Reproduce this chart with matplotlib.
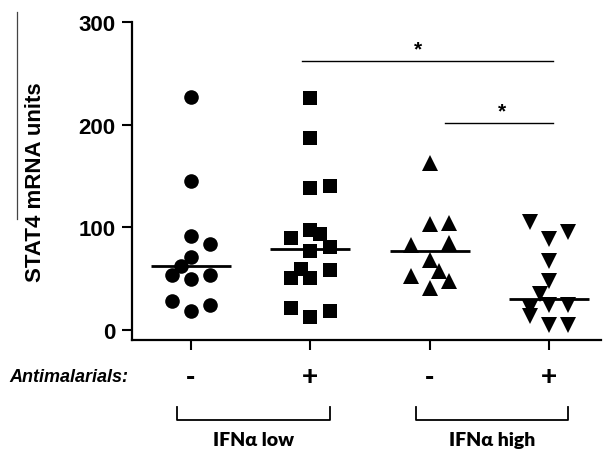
import matplotlib
matplotlib.use("Agg")
import matplotlib.pyplot as plt
import matplotlib.transforms as mtransforms
from matplotlib.lines import Line2D

# ---- data ----
group_pos = [1, 2, 3, 4]
tick_labels = ["-", "+", "-", "+"]
row_label = "Antimalarials:"
bracket_labels = ["IFN\u03b1 low", "IFN\u03b1 high"]
ylabel = "STAT4 mRNA units"

circ_vals = [227.3, 145.1, 91.0, 83.5, 70.8, 62.3, 53.6, 53.6, 49.1, 27.7, 23.8, 17.9]
circ_jit = [0, 0, 0, 0.16, 0, -0.08, -0.16, 0.16, 0, -0.16, 0.16, 0]

sq_vals = [225.7, 186.7, 138.7, 140.6, 90.0, 97.4, 93.2, 80.3, 76.9, 59.4, 50.4, 50.4, 58.4, 21.1, 12.1, 17.9]
sq_jit = [0, 0, 0, 0.16, -0.16, 0, 0.08, 0.16, 0, -0.08, -0.16, 0, 0.16, -0.16, 0, 0.16]

tri_vals = [162.4, 103.0, 104.6, 82.8, 84.4, 68.2, 57.5, 52.0, 47.1, 40.6]
tri_jit = [0, 0, 0.16, -0.16, 0.16, 0, 0.08, -0.16, 0.16, 0]

inv_vals = [105.6, 88.3, 94.9, 67.2, 47.1, 34.8, 21.1, 13.3, 24.4, 24.4, 4.3, 4.9]
inv_jit = [-0.16, 0, 0.16, 0, 0, -0.08, -0.16, -0.16, 0, 0.16, 0, 0.16]

medians = [61.8, 78.6, 77.3, 30.2]

sig_start = [1.927, 3.127]
sig_end = [4.03, 4.03]
sig_heights = [262.4, 201.3]
sig_star_x = [2.90, 3.60]
sig_text = ["*", "*"]

yticks = [0, 100, 200, 300]

# ---- figure ----
fig = plt.figure(figsize=(6.07, 4.52), dpi=100)
ax = fig.add_axes([132 / 607, 111 / 452, (601 - 132) / 607, (428.7 - 111) / 452])

groups = [(circ_vals, circ_jit, "o", 10.5),
          (sq_vals, sq_jit, "s", 10.2),
          (tri_vals, tri_jit, "^", 11.5),
          (inv_vals, inv_jit, "v", 11.5)]
for gp, (vals, jit, mk, ms) in zip(group_pos, groups):
    xs = [gp + j for j in jit]
    ax.plot(xs, vals, linestyle="none", marker=mk, markersize=ms,
            color="black", markeredgewidth=0)

for gp, m in zip(group_pos, medians):
    ax.plot([gp - 0.335, gp + 0.335], [m, m], color="black", lw=2.0,
            solid_capstyle="butt")

for x0, x1, h, sx, t in zip(sig_start, sig_end, sig_heights, sig_star_x, sig_text):
    ax.plot([x0, x1], [h, h], color="black", lw=1.0)
    ax.text(sx, h + 12, t, ha="center", va="center", fontsize=15,
            fontweight="bold", family="Liberation Sans")

ax.set_xlim(0.506, 4.433)
ax.set_ylim(-10, 300)
ax.set_yticks(yticks)
ax.set_yticklabels([str(v) for v in yticks], fontsize=16, fontweight="bold",
                   family="Liberation Sans")
ax.set_xticks(group_pos)
ax.set_xticklabels([])
ax.tick_params(axis="y", length=7, width=1.5, pad=5, direction="out")
ax.tick_params(axis="x", length=7, width=1.5, direction="out")
for s in ["top", "right"]:
    ax.spines[s].set_visible(False)
for s in ["left", "bottom"]:
    ax.spines[s].set_linewidth(1.6)
ax.set_ylabel(ylabel, fontsize=16, fontweight="bold", family="Liberation Sans",
              labelpad=23)

trans = mtransforms.blended_transform_factory(ax.transData, fig.transFigure)
for gp, lab in zip(group_pos, tick_labels):
    ax.text(gp, 1 - 378 / 452, lab, transform=trans, ha="center", va="center",
            fontsize=20, fontweight="bold", family="Liberation Sans")

fig.text(9 / 607, 1 - 378 / 452, row_label, ha="left", va="center",
         fontsize=13, fontweight="bold", style="italic", family="Liberation Sans")

# brackets
y_top = 1 - 408 / 452
y_bot = 1 - 421 / 452
for (a, b), lab in zip([(1, 2), (3, 4)], bracket_labels):
    x0, x1 = a - 0.118, b + 0.16
    ln = Line2D([x0, x0, x1, x1], [y_top, y_bot, y_bot, y_top], transform=trans,
                color="black", lw=1.3)
    fig.add_artist(ln)
    ax.text((x0 + x1) / 2, 1 - 441 / 452, lab, transform=trans, ha="center",
            va="center", fontsize=14, fontweight="heavy", family="Lato")

# stray vertical line at left edge of original figure
fig.add_artist(Line2D([17 / 607, 17 / 607], [1 - 13 / 452, 1 - 220 / 452],
                      transform=fig.transFigure, color="#444444", lw=0.9))

fig.savefig("out.png", dpi=100)
